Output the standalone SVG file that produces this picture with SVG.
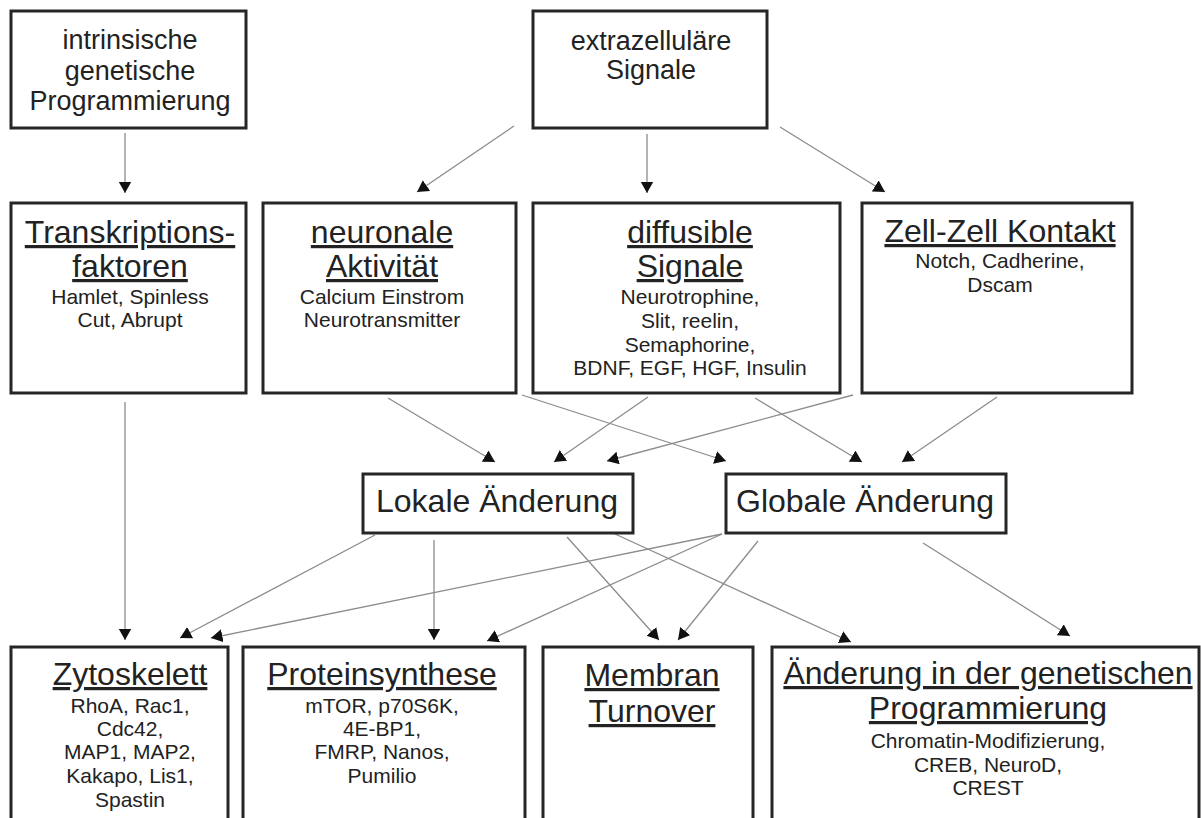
<svg xmlns="http://www.w3.org/2000/svg" width="1201" height="818" viewBox="0 0 1201 818">
<style>
.box{fill:#fff;stroke:#262626;stroke-width:3}
.t{font-family:"Liberation Sans",Arial,sans-serif;fill:#222;text-anchor:middle}
.top{font-size:27px}
.ti{font-size:32px;text-decoration:underline}
.mid{font-size:32px}
.sm{font-size:21px}
.c{stroke:#8c8c8c;stroke-width:1.3;fill:none;marker-end:url(#ah)}
</style>
<defs>
<marker id="ah" markerUnits="userSpaceOnUse" markerWidth="14" markerHeight="14" refX="11.5" refY="6.5" orient="auto">
<path d="M0,0 L11.5,6.5 L0,13 z" fill="#111"/>
</marker>
</defs>
<rect width="1201" height="818" fill="#fff"/>
<g id="connectors">
<line class="c" x1="125" y1="133" x2="125" y2="193"/>
<line class="c" x1="514" y1="126" x2="417" y2="192"/>
<line class="c" x1="647" y1="134" x2="647" y2="193"/>
<line class="c" x1="780" y1="127" x2="885" y2="192"/>
<line class="c" x1="125" y1="402" x2="125" y2="640"/>
<line class="c" x1="388" y1="398" x2="495" y2="462"/>
<line class="c" x1="522" y1="395" x2="726" y2="461"/>
<line class="c" x1="648" y1="397" x2="554" y2="462"/>
<line class="c" x1="755" y1="398" x2="862" y2="462"/>
<line class="c" x1="853" y1="395" x2="607" y2="461"/>
<line class="c" x1="997" y1="397" x2="902" y2="462"/>
<line class="c" x1="375" y1="535" x2="180" y2="638"/>
<line class="c" x1="434" y1="540" x2="434" y2="640"/>
<line class="c" x1="567" y1="537" x2="659" y2="640"/>
<line class="c" x1="615" y1="534" x2="851" y2="642"/>
<line class="c" x1="722" y1="534" x2="211" y2="638"/>
<line class="c" x1="722" y1="534" x2="487" y2="641"/>
<line class="c" x1="758" y1="541" x2="678" y2="640"/>
<line class="c" x1="923" y1="543" x2="1070" y2="636"/>
</g>
<g id="intrinsisch">
<rect class="box" x="11" y="11" width="235" height="117"/>
<text class="t top" x="130" y="49">intrinsische</text>
<text class="t top" x="130" y="80">genetische</text>
<text class="t top" x="130" y="110">Programmierung</text>
</g>
<g id="extrazellulaer">
<rect class="box" x="533" y="11" width="234" height="117"/>
<text class="t top" x="651" y="50">extrazelluläre</text>
<text class="t top" x="651" y="79">Signale</text>
</g>
<g id="transkription">
<rect class="box" x="11" y="203" width="235" height="190"/>
<text class="t ti" x="130" y="243">Transkriptions-</text>
<text class="t ti" x="130" y="277">faktoren</text>
<text class="t sm" x="130" y="304">Hamlet, Spinless</text>
<text class="t sm" x="130" y="327">Cut, Abrupt</text>
</g>
<g id="neuronal">
<rect class="box" x="263" y="203" width="253" height="190"/>
<text class="t ti" x="382" y="243">neuronale</text>
<text class="t ti" x="382" y="277">Aktivität</text>
<text class="t sm" x="382" y="304">Calcium Einstrom</text>
<text class="t sm" x="382" y="327">Neurotransmitter</text>
</g>
<g id="diffusibel">
<rect class="box" x="533" y="203" width="307" height="190"/>
<text class="t ti" x="690" y="243">diffusible</text>
<text class="t ti" x="690" y="277">Signale</text>
<text class="t sm" x="690" y="304">Neurotrophine,</text>
<text class="t sm" x="690" y="328">Slit, reelin,</text>
<text class="t sm" x="690" y="352">Semaphorine,</text>
<text class="t sm" x="690" y="375">BDNF, EGF, HGF, Insulin</text>
</g>
<g id="zellkontakt">
<rect class="box" x="862" y="203" width="270" height="190"/>
<text class="t ti" x="1000" y="242">Zell-Zell Kontakt</text>
<text class="t sm" x="1000" y="268">Notch, Cadherine,</text>
<text class="t sm" x="1000" y="292">Dscam</text>
</g>
<g id="lokal">
<rect class="box" x="363" y="474" width="270" height="59"/>
<text class="t mid" x="497" y="512">Lokale Änderung</text>
</g>
<g id="global">
<rect class="box" x="726" y="474" width="280" height="59"/>
<text class="t mid" x="865" y="512">Globale Änderung</text>
</g>
<g id="zytoskelett">
<rect class="box" x="11" y="647" width="217" height="190"/>
<text class="t ti" x="130" y="685">Zytoskelett</text>
<text class="t sm" x="130" y="713">RhoA, Rac1,</text>
<text class="t sm" x="130" y="736">Cdc42,</text>
<text class="t sm" x="130" y="759">MAP1, MAP2,</text>
<text class="t sm" x="130" y="783">Kakapo, Lis1,</text>
<text class="t sm" x="130" y="807">Spastin</text>
</g>
<g id="proteinsynthese">
<rect class="box" x="243" y="647" width="282" height="190"/>
<text class="t ti" x="382" y="685">Proteinsynthese</text>
<text class="t sm" x="382" y="713">mTOR, p70S6K,</text>
<text class="t sm" x="382" y="736">4E-BP1,</text>
<text class="t sm" x="382" y="759">FMRP, Nanos,</text>
<text class="t sm" x="382" y="783">Pumilio</text>
</g>
<g id="membran">
<rect class="box" x="543" y="647" width="210" height="190"/>
<text class="t ti" x="652" y="686">Membran</text>
<text class="t ti" x="652" y="722">Turnover</text>
</g>
<g id="genetisch">
<rect class="box" x="772" y="647" width="427" height="190"/>
<text class="t ti" x="988" y="684">Änderung in der genetischen</text>
<text class="t ti" x="988" y="719">Programmierung</text>
<text class="t sm" x="988" y="748">Chromatin-Modifizierung,</text>
<text class="t sm" x="988" y="772">CREB, NeuroD,</text>
<text class="t sm" x="988" y="795">CREST</text>
</g>
</svg>
